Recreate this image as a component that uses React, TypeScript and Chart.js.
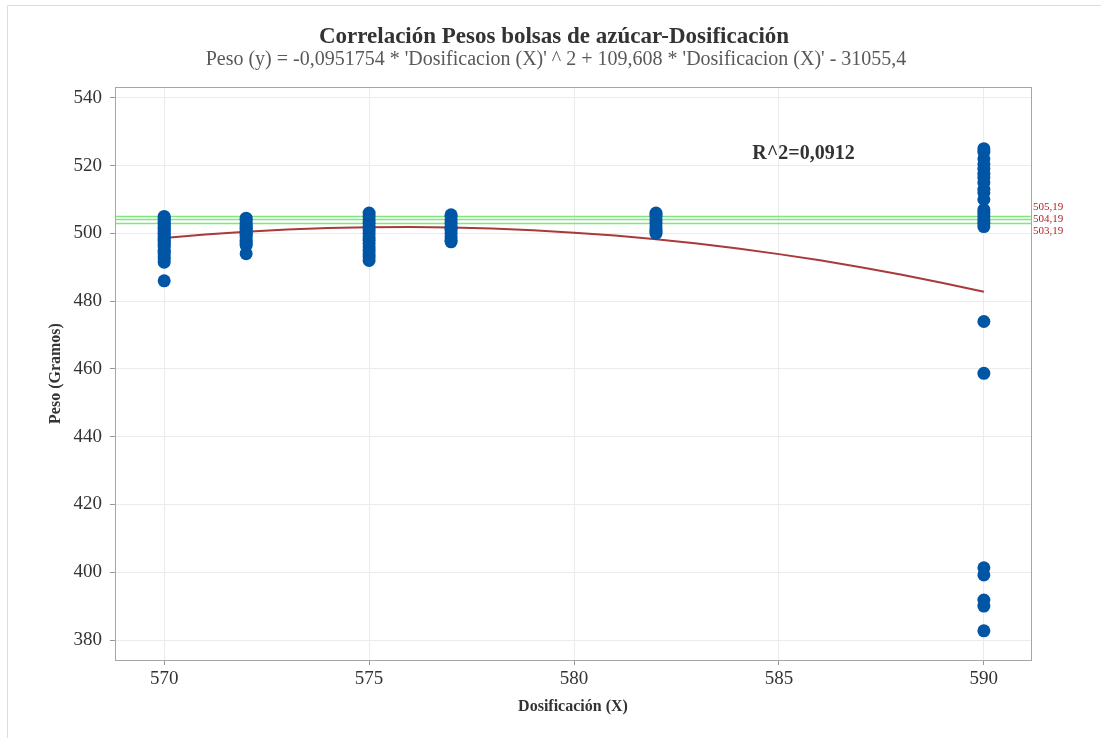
import React, { useEffect, useRef } from "react";
import { Chart, registerables } from "chart.js";

Chart.register(...registerables);

// ---- Data ----
const pesos570 = [505, 504.5, 504, 503.5, 503, 502.5, 502, 501.5, 501, 500.5, 500, 499.5, 499, 498.5, 498, 497.5, 497, 496.5, 496, 495, 494.5, 494, 493, 492.5, 491.5, 486];
const pesos572 = [504.5, 504, 503, 502.5, 502, 501.5, 501, 500.5, 500, 499.5, 499, 498, 497.5, 497, 496.5, 494];
const pesos575 = [506, 505, 504, 503, 502, 501, 500, 499, 498, 497, 496, 495, 494, 493, 492];
const pesos577 = [505.5, 505, 504, 503, 502, 501.5, 501, 500, 499, 498, 497.5];
const pesos582 = [506, 505.5, 505, 504, 503, 502, 501, 500.5, 500];
const pesos590 = [525, 524, 522, 520.5, 519, 517.5, 516.5, 515, 513, 512, 510, 507, 506, 505, 504, 503, 502, 474, 458.7, 401.3, 399.2, 391.8, 390, 382.7];

const dosisGroups: [number, number[]][] = [
  [570, pesos570],
  [572, pesos572],
  [575, pesos575],
  [577, pesos577],
  [582, pesos582],
  [590, pesos590],
];

const fitX = [570, 571, 572, 573, 574, 575, 576, 577, 578, 579, 580, 581, 582, 583, 584, 585, 586, 587, 588, 589, 590];
const fitY = [498.65, 499.66, 500.48, 501.12, 501.56, 501.81, 501.88, 501.75, 501.43, 500.92, 500.22, 499.34, 498.26, 496.99, 495.53, 493.88, 492.04, 490.01, 487.78, 485.37, 482.77];

const refLines = [505.19, 504.19, 503.19];
const refLabels = ["505,19", "504,19", "503,19"];

const xTickValues = [570, 575, 580, 585, 590];
const yTickValues = [380, 400, 420, 440, 460, 480, 500, 520, 540];

const titleText = "Correlación Pesos bolsas de azúcar-Dosificación";
const subtitleText = "Peso (y) = -0,0951754 * 'Dosificacion (X)' ^ 2 + 109,608 * 'Dosificacion (X)' - 31055,4";
const r2Text = "R^2=0,0912";
const r2Anchor = { x: 585.6, y: 523.5 };
const xTitle = "Dosificación (X)";
const yTitle = "Peso (Gramos)";

const SERIF = "'Liberation Serif', 'Times New Roman', serif";

const textPlugin = {
  id: "customText",
  beforeDraw(chart: any) {
    const ctx = chart.ctx;
    ctx.save();
    ctx.strokeStyle = "#dcdcdc";
    ctx.lineWidth = 1;
    ctx.beginPath();
    ctx.moveTo(7.5, 738);
    ctx.lineTo(7.5, 5.5);
    ctx.lineTo(1101, 5.5);
    ctx.stroke();
    ctx.restore();
  },
  beforeDatasetsDraw(chart: any) {
    const ctx = chart.ctx;
    const a = chart.chartArea;
    const ys = chart.scales.y;
    ctx.save();
    ctx.strokeStyle = "#80e680";
    ctx.lineWidth = 1.3;
    refLines.forEach((v) => {
      const py = Math.round(ys.getPixelForValue(v)) + 0.5;
      ctx.beginPath();
      ctx.moveTo(a.left, py);
      ctx.lineTo(a.right, py);
      ctx.stroke();
    });
    ctx.lineWidth = 1;
    ctx.strokeStyle = "#a6a6a6";
    ctx.strokeRect(Math.round(a.left) + 0.5, Math.round(a.top) + 0.5, Math.round(a.right - a.left), Math.round(a.bottom - a.top));
    ctx.restore();
  },
  afterDraw(chart: any) {
    const ctx = chart.ctx;
    const a = chart.chartArea;
    const xs = chart.scales.x;
    const ys = chart.scales.y;
    const cx = (a.left + a.right) / 2;
    ctx.save();
    ctx.textAlign = "center";
    ctx.textBaseline = "middle";
    ctx.fillStyle = "#333333";
    ctx.font = `bold 23px ${SERIF}`;
    ctx.fillText(titleText, 554, 37);
    ctx.fillStyle = "#595959";
    ctx.font = `20px ${SERIF}`;
    ctx.fillText(subtitleText, 556, 60);

    ctx.fillStyle = "#333333";
    ctx.font = `bold 20px ${SERIF}`;
    ctx.fillText(r2Text, xs.getPixelForValue(r2Anchor.x), ys.getPixelForValue(r2Anchor.y));

    ctx.font = `bold 16px ${SERIF}`;
    ctx.fillText(xTitle, cx, 707);
    ctx.save();
    ctx.translate(56, (a.top + a.bottom) / 2);
    ctx.rotate(-Math.PI / 2);
    ctx.fillText(yTitle, 0, 0);
    ctx.restore();

    ctx.fillStyle = "#b22222";
    ctx.font = `11px ${SERIF}`;
    ctx.textAlign = "left";
    const mid = ys.getPixelForValue(refLines[1]);
    refLabels.forEach((t, i) => {
      ctx.fillText(t, a.right + 2, mid + (i - 1) * 12);
    });
    ctx.restore();
  },
};

export default function App() {
  const ref = useRef<HTMLCanvasElement | null>(null);
  useEffect(() => {
    if (!ref.current) return;
    const points: { x: number; y: number }[] = [];
    dosisGroups.forEach(([x, ys]) => ys.forEach((y) => points.push({ x, y })));
    const fit = fitX.map((x, i) => ({ x, y: fitY[i] }));
    const chart = new Chart(ref.current, {
      type: "scatter",
      data: {
        datasets: [
          {
            label: "Peso",
            data: points,
            backgroundColor: "#0055a5",
            borderWidth: 0,
            pointRadius: 6.5,
            order: 0,
          },
          {
            type: "line",
            label: "Ajuste",
            data: fit,
            borderColor: "#a83a3a",
            borderWidth: 2,
            pointRadius: 0,
            showLine: true,
            tension: 0,
            fill: false,
            order: 1,
          } as any,
        ],
      },
      options: {
        responsive: false,
        animation: false,
        devicePixelRatio: 1,
        layout: { padding: { left: 0, right: 70, top: 87, bottom: 0 } },
        plugins: {
          legend: { display: false },
          tooltip: { enabled: false },
          title: { display: false },
        },
        scales: {
          x: {
            type: "linear",
            min: 568.8,
            max: 591.15,
            afterBuildTicks: (s: any) => {
              s.ticks = xTickValues.map((v) => ({ value: v }));
            },
            afterFit: (s: any) => {
              s.height = 78;
            },
            grid: { color: "#ebebeb", tickColor: "#999", tickLength: 5, drawTicks: true },
            border: { display: false },
            ticks: {
              color: "#333",
              font: { family: SERIF, size: 19 },
              padding: 3,
              maxRotation: 0,
              autoSkip: false,
            },
          },
          y: {
            type: "linear",
            min: 374.1,
            max: 543.2,
            afterBuildTicks: (s: any) => {
              s.ticks = yTickValues.map((v) => ({ value: v }));
            },
            afterFit: (s: any) => {
              s.width = 115;
            },
            grid: { color: "#ebebeb", tickColor: "#999", tickLength: 5, drawTicks: true },
            border: { display: false },
            ticks: {
              color: "#333",
              font: { family: SERIF, size: 19 },
              padding: 8,
              autoSkip: false,
            },
          },
        },
      },
      plugins: [textPlugin],
    });
    return () => chart.destroy();
  }, []);
  return (
    <div style={{ position: "fixed", left: 0, top: 0, width: 1101, height: 738, background: "#fff" }}>
      <canvas ref={ref} width={1101} height={738} style={{ width: 1101, height: 738, display: "block" }} />
    </div>
  );
}
